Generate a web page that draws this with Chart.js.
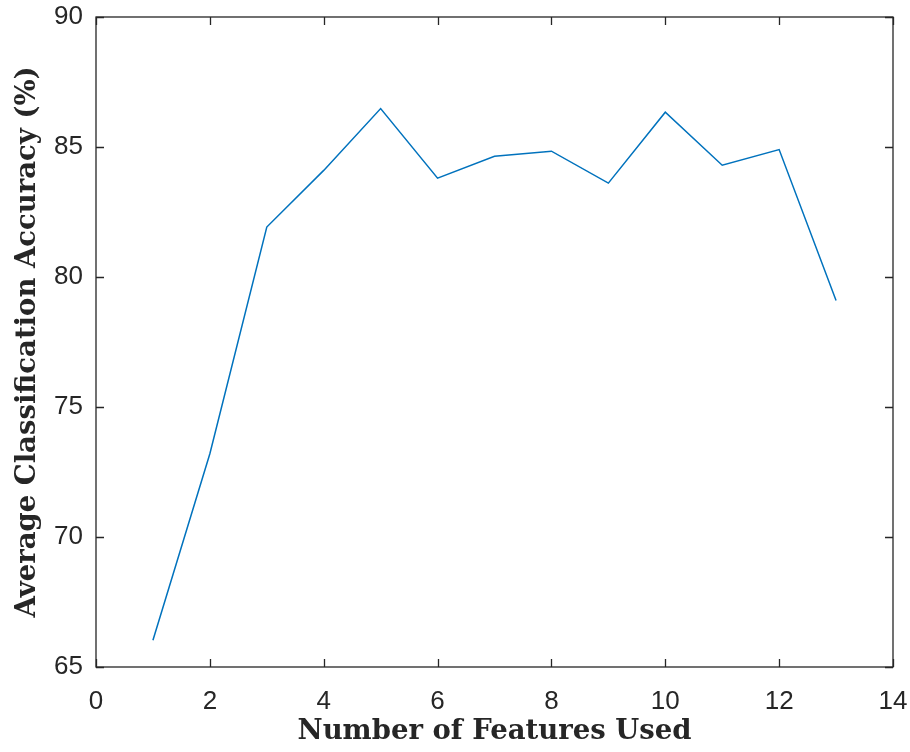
<!DOCTYPE html>
<html>
<head>
<meta charset="utf-8">
<script src="https://cdn.jsdelivr.net/npm/chart.js@4"></script>
<style>
  html, body { margin: 0; padding: 0; background: #fff; }
  #wrap { width: 910px; height: 752px; }
</style>
</head>
<body>
<div id="wrap"><canvas id="chart" width="910" height="752"></canvas></div>
<script>
// nombre de features vs précision moyenne
const nbFeatures = [1, 2, 3, 4, 5, 6, 7, 8, 9, 10, 11, 12, 13];
const precision  = [66.03, 73.2, 81.92, 84.10, 86.48, 83.80, 84.64, 84.84, 83.61, 86.34, 84.30, 84.90, 79.10];
const xTicks = [0, 2, 4, 6, 8, 10, 12, 14];
const yTicks = [65, 70, 75, 80, 85, 90];

const AXE = '#262626';

// cadre + ticks vers l'intérieur, style matlab
const cadrePlugin = {
  id: 'cadre',
  afterDraw(chart) {
    const { ctx, chartArea: a, scales } = chart;
    const len = 8;
    ctx.save();
    ctx.strokeStyle = AXE;
    ctx.lineWidth = 1.3;
    ctx.strokeRect(a.left, a.top, a.right - a.left, a.bottom - a.top);
    ctx.beginPath();
    xTicks.forEach(v => {
      const x = Math.round(scales.x.getPixelForValue(v)) + 0.5;
      ctx.moveTo(x, a.bottom); ctx.lineTo(x, a.bottom - len);
      ctx.moveTo(x, a.top);    ctx.lineTo(x, a.top + len);
    });
    yTicks.forEach(v => {
      const y = Math.round(scales.y.getPixelForValue(v)) + 0.5;
      ctx.moveTo(a.left, y);  ctx.lineTo(a.left + len, y);
      ctx.moveTo(a.right, y); ctx.lineTo(a.right - len, y);
    });
    ctx.stroke();
    ctx.restore();
  }
};

new Chart(document.getElementById('chart'), {
  type: 'line',
  data: {
    datasets: [{
      data: nbFeatures.map((x, i) => ({ x, y: precision[i] })),
      borderColor: '#0072BD',
      borderWidth: 1.5,
      pointRadius: 0,
      tension: 0,
      fill: false,
    }],
  },
  options: {
    responsive: false,
    animation: false,
    layout: { padding: { top: 17, right: 17, left: 0, bottom: 0 } },
    plugins: { legend: { display: false }, tooltip: { enabled: false } },
    scales: {
      x: {
        type: 'linear',
        min: 0, max: 14,
        afterBuildTicks: s => { s.ticks = xTicks.map(v => ({ value: v })); },
        afterFit: s => { s.height = 85; s.paddingLeft = 0; s.paddingRight = 0; },
        grid: { display: false, drawTicks: false },
        border: { display: false },
        ticks: { color: AXE, padding: 19, maxRotation: 0, font: { family: 'Liberation Sans, Arial, sans-serif', size: 26 } },
        title: {
          display: true,
          text: 'Number of Features Used',
          color: AXE,
          padding: { top: 0, bottom: 4 },
          font: { family: 'DejaVu Serif, serif', weight: 'bold', size: 27.5 },
        },
      },
      y: {
        min: 65, max: 90,
        afterBuildTicks: s => { s.ticks = yTicks.map(v => ({ value: v })); },
        afterFit: s => { s.width = 96; s.paddingTop = 0; s.paddingBottom = 0; },
        grid: { display: false, drawTicks: false },
        border: { display: false },
        ticks: { color: AXE, padding: 13, font: { family: 'Liberation Sans, Arial, sans-serif', size: 26 } },
        title: {
          display: true,
          text: 'Average Classification Accuracy (%)',
          color: AXE,
          padding: { top: 11, bottom: 0 },
          font: { family: 'DejaVu Serif, serif', weight: 'bold', size: 27.5 },
        },
      },
    },
  },
  plugins: [cadrePlugin],
});
</script>
</body>
</html>
